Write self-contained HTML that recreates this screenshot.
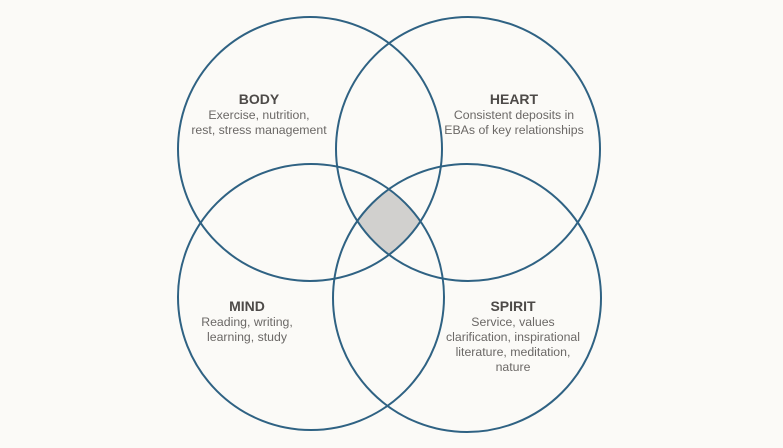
<!DOCTYPE html>
<html><head><meta charset="utf-8"><style>
html,body{margin:0;padding:0;background:#fbfaf7;}
svg{display:block;}
text{font-family:"Liberation Sans",Arial,sans-serif;text-anchor:middle;}
.t{font-size:14px;font-weight:bold;fill:#4d4a48;}
.s{font-size:12.3px;fill:#6b6866;}
</style></head><body>
<svg width="783" height="448" viewBox="0 0 783 448" xmlns="http://www.w3.org/2000/svg">
<defs>
<clipPath id="c1"><circle cx="310" cy="149" r="132"/></clipPath>
<clipPath id="c2"><circle cx="468" cy="149" r="132"/></clipPath>
<clipPath id="c3"><circle cx="311" cy="297" r="133"/></clipPath>
<clipPath id="c4"><circle cx="467" cy="298" r="134"/></clipPath>
</defs>
<rect width="783" height="448" fill="#fbfaf7"/>
<g clip-path="url(#c1)"><g clip-path="url(#c2)"><g clip-path="url(#c3)"><g clip-path="url(#c4)">
<rect x="300" y="150" width="180" height="150" fill="#d1d0ce"/>
</g></g></g></g>
<g fill="none" stroke="#2f6283" stroke-width="2">
<circle cx="310" cy="149" r="132"/>
<circle cx="468" cy="149" r="132"/>
<circle cx="311" cy="297" r="133"/>
<circle cx="467" cy="298" r="134"/>
</g>
<text class="t" x="259" y="104">BODY</text>
<text class="s" x="259" y="119">Exercise, nutrition,</text>
<text class="s" x="259" y="134">rest, stress management</text>
<text class="t" x="514" y="104">HEART</text>
<text class="s" x="514" y="119">Consistent deposits in</text>
<text class="s" x="514" y="134">EBAs of key relationships</text>
<text class="t" x="247" y="311">MIND</text>
<text class="s" x="247" y="326">Reading, writing,</text>
<text class="s" x="247" y="341">learning, study</text>
<text class="t" x="513" y="311">SPIRIT</text>
<text class="s" x="513" y="326">Service, values</text>
<text class="s" x="513" y="341">clarification, inspirational</text>
<text class="s" x="513" y="356">literature, meditation,</text>
<text class="s" x="513" y="371">nature</text>
</svg>
</body></html>
